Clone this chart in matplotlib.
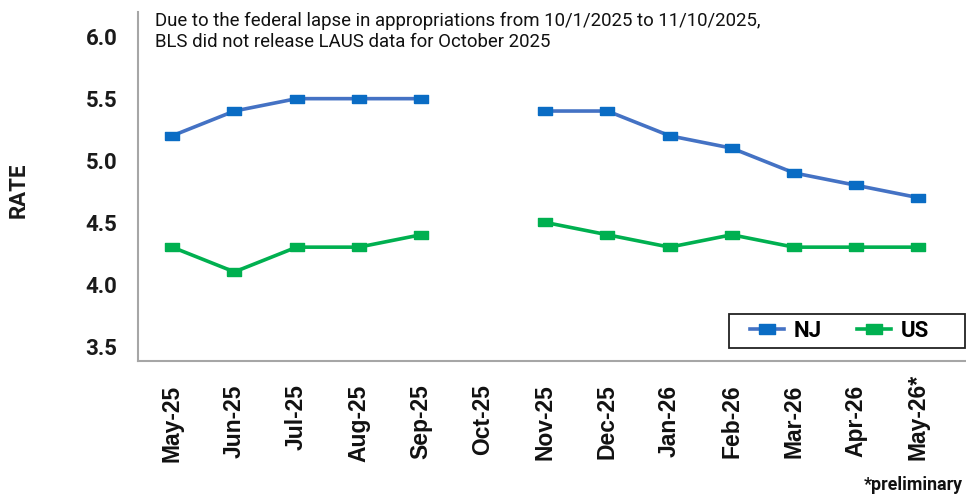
import numpy as np
import matplotlib
matplotlib.use("Agg")
import matplotlib.pyplot as plt
from matplotlib.patches import Rectangle
from matplotlib.transforms import ScaledTranslation

months = ["May-25", "Jun-25", "Jul-25", "Aug-25", "Sep-25", "Oct-25", "Nov-25",
          "Dec-25", "Jan-26", "Feb-26", "Mar-26", "Apr-26", "May-26*"]
nj = [5.2, 5.4, 5.5, 5.5, 5.5, np.nan, 5.4, 5.4, 5.2, 5.1, 4.9, 4.8, 4.7]
us = [4.3, 4.1, 4.3, 4.3, 4.4, np.nan, 4.5, 4.4, 4.3, 4.4, 4.3, 4.3, 4.3]
yticks = [3.5, 4.0, 4.5, 5.0, 5.5, 6.0]

plt.rcParams['font.family'] = ['Roboto', 'DejaVu Sans']

fig = plt.figure(figsize=(9.66, 4.95), dpi=100)
ax = fig.add_axes([0.1429, 0.2707, 0.856, 0.705])

rect = [(-1, -0.55), (1, -0.55), (1, 0.55), (-1, 0.55), (-1, -0.55)]
x = np.arange(len(months))

ax.plot(x, nj, color="#4472C4", lw=2.6, marker=rect, ms=10,
        mfc="#0A6CC4", mec="#0A6CC4", label="NJ")
ax.plot(x, us, color="#00B050", lw=2.6, marker=rect, ms=10,
        mfc="#00B050", mec="#00B050", label="US")

ax.set_xlim(-0.55, 12.75)
ax.set_ylim(3.38, 6.2)
ax.set_yticks(yticks)
ax.set_yticklabels([f"{v:.1f}" for v in yticks], fontsize=16, fontweight="bold",
                   color="#1a1a1a")
ax.set_xticks(x)
ax.set_xticklabels(months, rotation=90, fontsize=16.5, fontweight="bold",
                   color="#111111", family=["Liberation Sans", "DejaVu Sans"])
ax.tick_params(axis="y", length=0, pad=15)
ax.tick_params(axis="x", length=0, pad=17)

# the asterisk pokes above the other labels in the original
last = ax.get_xticklabels()[-1]
last.set_transform(last.get_transform() + ScaledTranslation(0, 11 / 100, fig.dpi_scale_trans))

for s in ["top", "right"]:
    ax.spines[s].set_visible(False)
for s in ["left", "bottom"]:
    ax.spines[s].set_color("#A6A6A6")
    ax.spines[s].set_linewidth(1.5)

fig.text(0.019, 0.616, "RATE", rotation=90, ha="center", va="center",
         fontsize=16, fontweight="bold", color="#1a1a1a")

ax.text(0.02, 1.0, "Due to the federal lapse in appropriations from 10/1/2025 to 11/10/2025,\n"
        "BLS did not release LAUS data for October 2025",
        transform=ax.transAxes, ha="left", va="top", fontsize=13.4,
        linespacing=1.2, color="#111111")

fig.text(0.997, 0.003, "*preliminary", ha="right", va="bottom", fontsize=12.8,
         fontweight="bold", color="#111111")

# legend box drawn separately: Excel leaves extra room on the right
ax.add_patch(Rectangle((0.7146, 0.037), 0.2854, 0.098, transform=ax.transAxes,
                       fill=True, facecolor="white", edgecolor="#222222", lw=1.3,
                       zorder=4, clip_on=False))
leg = ax.legend(loc="center left", bbox_to_anchor=(0.740, 0.086), ncol=2,
                frameon=False, prop={"weight": "bold", "size": 16},
                handlelength=1.55, columnspacing=1.6, borderpad=0,
                handletextpad=0.4, borderaxespad=0, markerscale=1.2)
leg.set_zorder(5)

fig.savefig("out.png", dpi=100)
